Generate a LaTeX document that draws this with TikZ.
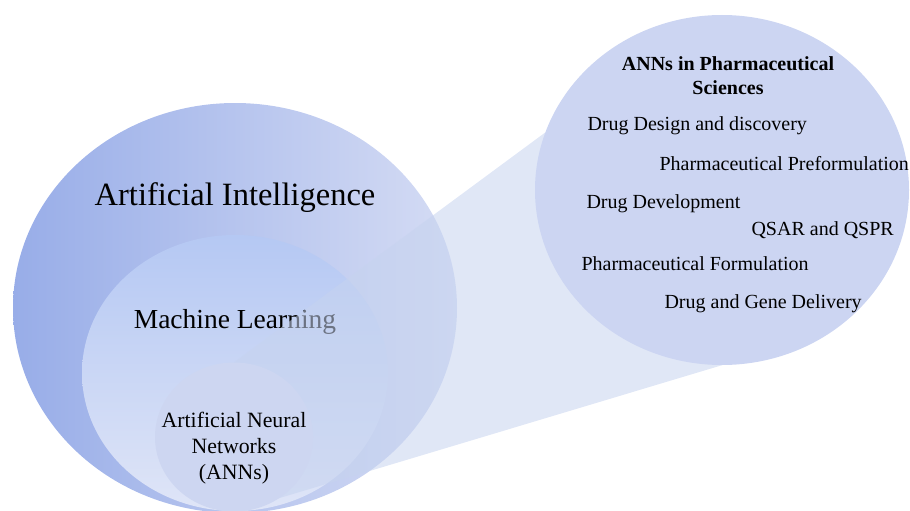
\documentclass[tikz,border=0pt]{standalone}
\usepackage{fontspec}
\setmainfont{Liberation Serif}
\usetikzlibrary{shapes.geometric}

\definecolor{aileft}{HTML}{98ADE8}
\definecolor{airight}{HTML}{D5DCF4}
\definecolor{mltop}{HTML}{B5C8F3}
\definecolor{mlbottom}{HTML}{DFE5F7}
\definecolor{annfill}{HTML}{CDD6F1}
\definecolor{conefill}{HTML}{C6D3EF}
\definecolor{pharmafill}{HTML}{CCD5F2}

\begin{document}
\begin{tikzpicture}[x=1pt, y=-1pt,
		oval_style/.style={ellipse,inner sep=0pt,draw=none},
		big_label/.style={anchor=base,font=\fontsize{32.5}{39}\selectfont},
		mid_label/.style={anchor=base,font=\fontsize{27.5}{33}\selectfont},
		item_style/.style={anchor=base west,font=\fontsize{20}{24}\selectfont},
		cone_style/.style={fill=conefill,fill opacity=0.55}]

		\useasboundingbox (0,0) rectangle (910,511);

		\node[oval_style,minimum width=444pt,minimum height=410pt,left color=aileft,right color=airight] (ai) at (235,308) {};
		\node[oval_style,minimum width=306pt,minimum height=276pt,top color=mltop,bottom color=mlbottom] (ml) at (235,373) {};

		\node[big_label] (ai_text) at (235,205) {Artificial Intelligence};
		\node[mid_label] (ml_text) at (235,328) {Machine Learning};

		\node[oval_style,minimum width=158pt,minimum height=149pt] (ann) at (234,437) {};
		\node[oval_style,minimum width=374pt,minimum height=350pt] (pharma) at (722,190) {};

		% zoom cone from the ANN circle to the big one
		\fill[cone_style] (ann.north) -- (pharma.162) -- (pharma.south) -- (ann.south) -- cycle;

		\fill[annfill] (ann.center) ellipse [x radius=79pt,y radius=74.5pt];
		\node[align=center,font=\fontsize{21.8}{26}\selectfont] (ann_text) at (234,448) {Artificial Neural\\Networks\\(ANNs)};

		\fill[pharmafill] (pharma.center) ellipse [x radius=187pt,y radius=175pt];
		\node[align=center,font=\bfseries\fontsize{20}{24}\selectfont] (title) at (728,76) {ANNs in Pharmaceutical\\Sciences};
		\node[item_style] (i1) at (584,130) {Drug Design and discovery};
		\node[item_style] (i2) at (656,170) {Pharmaceutical Preformulation};
		\node[item_style] (i3) at (583,208) {Drug Development};
		\node[item_style] (i4) at (748,235) {QSAR and QSPR};
		\node[item_style] (i5) at (578,270) {Pharmaceutical Formulation};
		\node[item_style] (i6) at (661,308) {Drug and Gene Delivery};
\end{tikzpicture}
\end{document}
